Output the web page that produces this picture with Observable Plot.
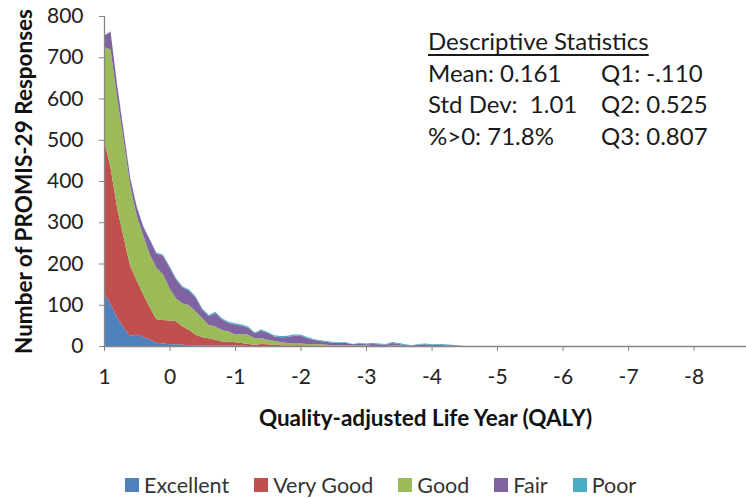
<!DOCTYPE html>
<html>
<head>
<meta charset="utf-8">
<script src="https://cdn.jsdelivr.net/npm/d3@7"></script>
<script src="https://cdn.jsdelivr.net/npm/@observablehq/plot@0.6"></script>
<style>
  body { margin: 0; background: #fff; }
  #wrap { position: relative; width: 746px; height: 499px; font-family: Lato, "Open Sans", sans-serif; color: #222; overflow: hidden; }
  #wrap svg { position: absolute; left: 0; top: 0; font-family: Lato, "Open Sans", sans-serif; }
  g[aria-label="x-axis label"] text, g[aria-label="y-axis label"] text { font-weight: bold; fill: #111; font-size: 22.5px; }
  #stats { position: absolute; left: 428px; top: 0; font-size: 24px; color: #1a1a1a; }
  #stats div { position: absolute; white-space: pre; line-height: 1; }
  #legend { position: absolute; left: 125px; top: 472px; display: flex; align-items: center; font-size: 21.5px; color: #333; }
  #legend .item { display: flex; align-items: center; margin-right: 25px; }
  #legend .sw { width: 14px; height: 14px; margin-right: 5px; }
</style>
</head>
<body>
<div id="wrap"></div>
<script>
const series = ["Excellent", "Very Good", "Good", "Fair", "Poor"];
const colors = ["#4F81BD", "#C0504D", "#9BBB59", "#8064A2", "#4BACC6"];

const qaly = [1.0, 0.9, 0.8, 0.7, 0.6, 0.5, 0.4, 0.3, 0.2, 0.1, 0.0, -0.1, -0.2, -0.3, -0.4, -0.5, -0.6, -0.7, -0.8, -0.9,
  -1.0, -1.1, -1.2, -1.3, -1.4, -1.5, -1.6, -1.7, -1.8, -1.9, -2.0, -2.1, -2.2, -2.3, -2.4, -2.5, -2.6, -2.7, -2.8, -2.9,
  -3.0, -3.1, -3.2, -3.3, -3.4, -3.5, -3.6, -3.7, -3.8, -3.9, -4.0, -4.1, -4.2, -4.3, -4.4, -4.5];

const excellent = [129, 101, 69, 44, 24, 28, 22, 16, 8, 6, 4, 4, 3, 2, 2, 2, 1, 1, 1, 1,
  1, 1, 0, 0, 0, 0, 0, 0, 0, 0, 0, 0, 0, 0, 0, 0, 0, 0, 0, 0,
  0, 0, 0, 0, 0, 0, 0, 0, 0, 0, 0, 0, 0, 0, 0, 0];
const veryGood = [372, 331, 266, 219, 170, 130, 103, 77, 57, 57, 58, 56, 44, 37, 25, 19, 18, 14, 10, 10,
  8, 6, 5, 3, 5, 4, 3, 2, 2, 2, 2, 1, 1, 1, 1, 1, 0, 0, 0, 0,
  0, 0, 0, 0, 0, 0, 0, 0, 0, 0, 0, 0, 0, 0, 0, 0];
const good = [224, 287, 267, 234, 194, 157, 142, 129, 125, 111, 78, 55, 56, 60, 56, 46, 32, 32, 28, 24,
  19, 22, 22, 16, 14, 11, 9, 7, 5, 4, 4, 4, 3, 3, 2, 1, 2, 1, 1, 1,
  1, 0, 0, 0, 1, 1, 0, 0, 0, 0, 0, 0, 0, 0, 0, 0];
const fair = [27, 43, 31, 23, 19, 22, 22, 35, 34, 45, 51, 46, 38, 35, 34, 21, 21, 33, 25, 21,
  24, 20, 17, 12, 18, 16, 11, 12, 15, 19, 19, 14, 11, 8, 7, 6, 5, 6, 3, 5,
  3, 5, 4, 3, 6, 4, 2, 1, 3, 4, 2, 3, 2, 2, 1, 0];
const poor = [0, 1, 1, 1, 1, 2, 2, 2, 2, 3, 3, 3, 3, 3, 3, 3, 3, 3, 3, 3,
  3, 3, 3, 2, 3, 3, 3, 3, 3, 3, 3, 3, 2, 2, 2, 2, 2, 2, 1, 2,
  2, 2, 2, 2, 3, 2, 2, 1, 2, 2, 2, 2, 2, 1, 0, 0];

const xTicks = [1, 0, -1, -2, -3, -4, -5, -6, -7, -8];
const yTicks = [0, 100, 200, 300, 400, 500, 600, 700, 800];

const statsTitle = "Descriptive Statistics";
const statsLeft = ["Mean: 0.161", "Std Dev:  1.01", "%>0: 71.8%"];
const statsRight = ["Q1: -.110", "Q2: 0.525", "Q3: 0.807"];

const valuesBySeries = [excellent, veryGood, good, fair, poor];
const data = [];
series.forEach((s, i) => {
  qaly.forEach((q, j) => data.push({ s, q, v: valuesBySeries[i][j] }));
});

const axisGray = "#868686";

const chart = Plot.plot({
  width: 746,
  height: 440,
  marginLeft: 104,
  marginRight: 0,
  marginTop: 16,
  marginBottom: 94,
  x: { domain: [1, -8.8] },
  y: { domain: [0, 800] },
  color: { domain: series, range: colors },
  marks: [
    Plot.areaY(data, { x: "q", y: "v", fill: "s", order: series, curve: "linear" }),
    Plot.ruleY([0], { stroke: axisGray, strokeWidth: 1.3 }),
    Plot.ruleX([1], { stroke: axisGray, strokeWidth: 1.3 }),
    Plot.axisX({
      ticks: xTicks, tickFormat: d => String(d), tickSize: 5, tickPadding: 18,
      stroke: axisGray, fill: "#222", fontSize: 21,
      label: "Quality-adjusted Life Year (QALY)", labelAnchor: "center", labelArrow: "none", labelOffset: 79
    }),
    Plot.axisY({
      ticks: yTicks, tickSize: 5, tickPadding: 16,
      stroke: axisGray, fill: "#222", fontSize: 21,
      label: "Number of PROMIS-29 Responses", labelAnchor: "center", labelArrow: "none", labelOffset: 88
    })
  ]
});

const wrap = document.getElementById("wrap");
wrap.appendChild(chart);

// descriptive statistics box
const stats = document.createElement("div");
stats.id = "stats";
const t = document.createElement("div");
t.textContent = statsTitle;
t.style.top = "29px";
t.style.left = "0px";
t.style.textDecoration = "underline";
t.style.textDecorationThickness = "1.5px";
t.style.textUnderlineOffset = "4px";
stats.appendChild(t);
const rowTops = [61, 92, 124];
statsLeft.forEach((txt, i) => {
  const d = document.createElement("div");
  d.textContent = txt;
  d.style.top = rowTops[i] + "px";
  d.style.left = "0px";
  stats.appendChild(d);
});
statsRight.forEach((txt, i) => {
  const d = document.createElement("div");
  d.textContent = txt;
  d.style.top = rowTops[i] + "px";
  d.style.left = "173px";
  stats.appendChild(d);
});
wrap.appendChild(stats);

// legend
const legend = document.createElement("div");
legend.id = "legend";
series.forEach((s, i) => {
  const item = document.createElement("div");
  item.className = "item";
  const sw = document.createElement("div");
  sw.className = "sw";
  sw.style.background = colors[i];
  const lab = document.createElement("span");
  lab.textContent = s;
  item.appendChild(sw);
  item.appendChild(lab);
  legend.appendChild(item);
});
wrap.appendChild(legend);
</script>
</body>
</html>
